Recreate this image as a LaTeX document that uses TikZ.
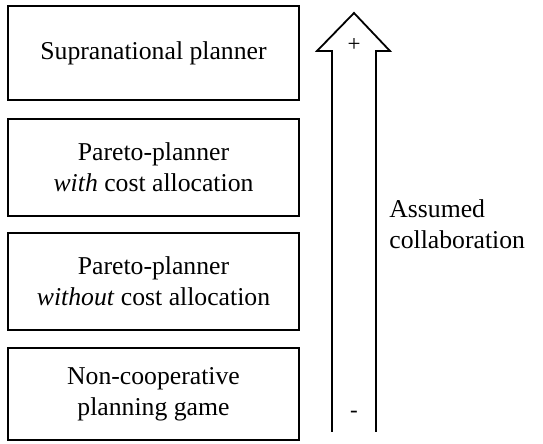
\documentclass[tikz,border=0pt]{standalone}
\usepackage{fontspec}
\setmainfont{Liberation Serif}
\usetikzlibrary{positioning}

\tikzset{
  level/.style={draw, line width=0.9pt, minimum width=145.5pt, minimum height=47.5pt,
    align=center, inner sep=2pt, font=\fontsize{12.85}{15.5}\selectfont},
  sign/.style={inner sep=0pt, font=\fontsize{11.5}{12}\selectfont}
}

\begin{document}
\begin{tikzpicture}[x=0.5pt,y=-0.5pt]
  \useasboundingbox (0,0) rectangle (543,444);

  % Levels of collaboration
  \node[level, minimum height=47pt] (supra) at (153.5,53) {Supranational planner};
  \node[level, minimum height=48.5pt] (with) at (153.5,167.5) {Pareto-planner\\\textit{with} cost allocation};
  \node[level, minimum height=48.5pt] (without) at (153.5,281.5) {Pareto-planner\\\textit{without} cost allocation};
  \node[level, minimum height=46pt] (noncoop) at (153.5,394) {Non-cooperative\\planning game};

  % Arrow
  \draw[line width=0.9pt, line join=miter] (332,432) -- (332,51) -- (317,51) -- (354,13)
    -- (390,51) -- (376,51) -- (376,432);
  \node[sign] (plus) at (354,45) {+};
  \node[sign] (minus) at (354,414) {-};

  % Label
  \node[anchor=west, align=left, inner sep=0pt, font=\fontsize{12.85}{15.5}\selectfont]
    (assumed) at (389,224) {Assumed\\collaboration};
\end{tikzpicture}
\end{document}
